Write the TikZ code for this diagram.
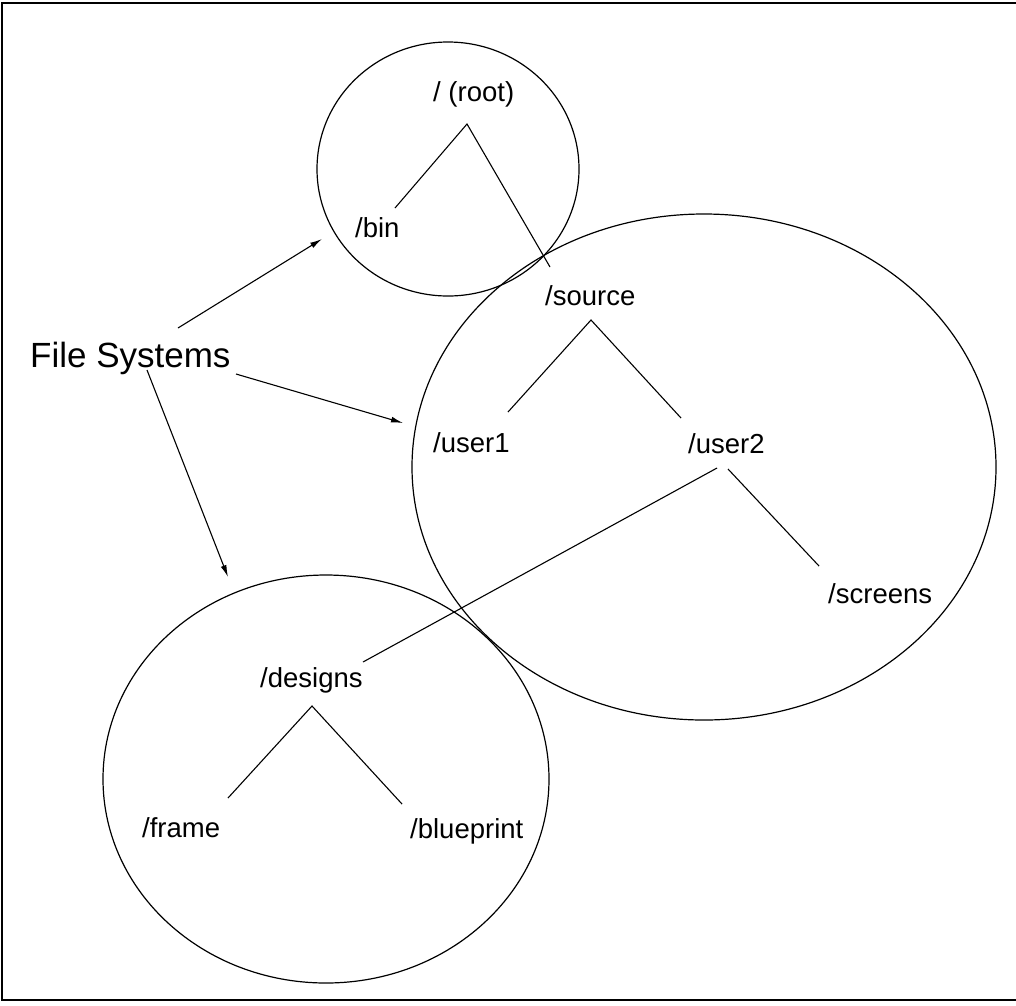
\documentclass[tikz,border=0pt]{standalone}
\usepackage{fontspec}
\setmainfont{Liberation Sans}
\usetikzlibrary{arrows.meta}
\begin{document}
\begin{tikzpicture}[x=1pt,y=-1pt,
  lbl/.style={anchor=base west,inner sep=0pt,font=\fontsize{27.5}{33}\selectfont},
  title/.style={anchor=base west,inner sep=0pt,font=\fontsize{35}{42}\selectfont},
  ring/.style={draw,line width=1.2pt},
  branch/.style={draw,line width=1.1pt},
  pointer/.style={draw,line width=1.1pt,-{Latex[length=12pt,width=6pt]}},
  border/.style={draw,line width=2.2pt}]
\useasboundingbox (0,0) rectangle (1016,1005);
% outer frame
\path[border] (1016,3) -- (2,3) -- (2,1000) -- (1016,1000);

% file system boundaries
\path[ring] (448,169) ellipse [x radius=131pt, y radius=127pt];
\path[ring] (704,467) ellipse [x radius=292pt, y radius=253pt];
\path[ring] (326,779) ellipse [x radius=223pt, y radius=204pt];

% directory names
\node[lbl] (root) at (433,101) {/ (root)};
\node[lbl] (bin) at (355,237) {/bin};
\node[lbl] (source) at (545,305) {/source};
\node[lbl] (user1) at (433,452) {/user1};
\node[lbl] (user2) at (688,453) {/user2};
\node[lbl] (screens) at (828,603) {/screens};
\node[lbl] (designs) at (260,687) {/designs};
\node[lbl] (frame) at (142,837) {/frame};
\node[lbl] (blueprint) at (410,838) {/blueprint};
\node[title] (fs) at (30,367) {File Systems};

% tree branch end points
\coordinate (rootJ) at (467,124);
\coordinate (binE) at (395,208);
\coordinate (srcE) at (550,267);
\coordinate (srcJ) at (591,320);
\coordinate (u1E) at (508,412);
\coordinate (u2E) at (681,418);
\coordinate (u2J) at (717,468);
\coordinate (u2K) at (728,469);
\coordinate (desE) at (363,662);
\coordinate (scrE) at (819,566);
\coordinate (desJ) at (312,706);
\coordinate (frE) at (228,798);
\coordinate (bpE) at (402,804);

\path[branch] (binE) -- (rootJ) -- (srcE);
\path[branch] (u1E) -- (srcJ) -- (u2E);
\path[branch] (u2J) -- (desE);
\path[branch] (u2K) -- (scrE);
\path[branch] (frE) -- (desJ) -- (bpE);

% pointers from the caption
\coordinate (fsA) at (178,328);
\coordinate (fsB) at (236,374);
\coordinate (fsC) at (147,370);
\coordinate (tipA) at (322,239);
\coordinate (tipB) at (403,423);
\coordinate (tipC) at (228,577);
\path[pointer] (fsA) -- (tipA);
\path[pointer] (fsB) -- (tipB);
\path[pointer] (fsC) -- (tipC);
\end{tikzpicture}
\end{document}
